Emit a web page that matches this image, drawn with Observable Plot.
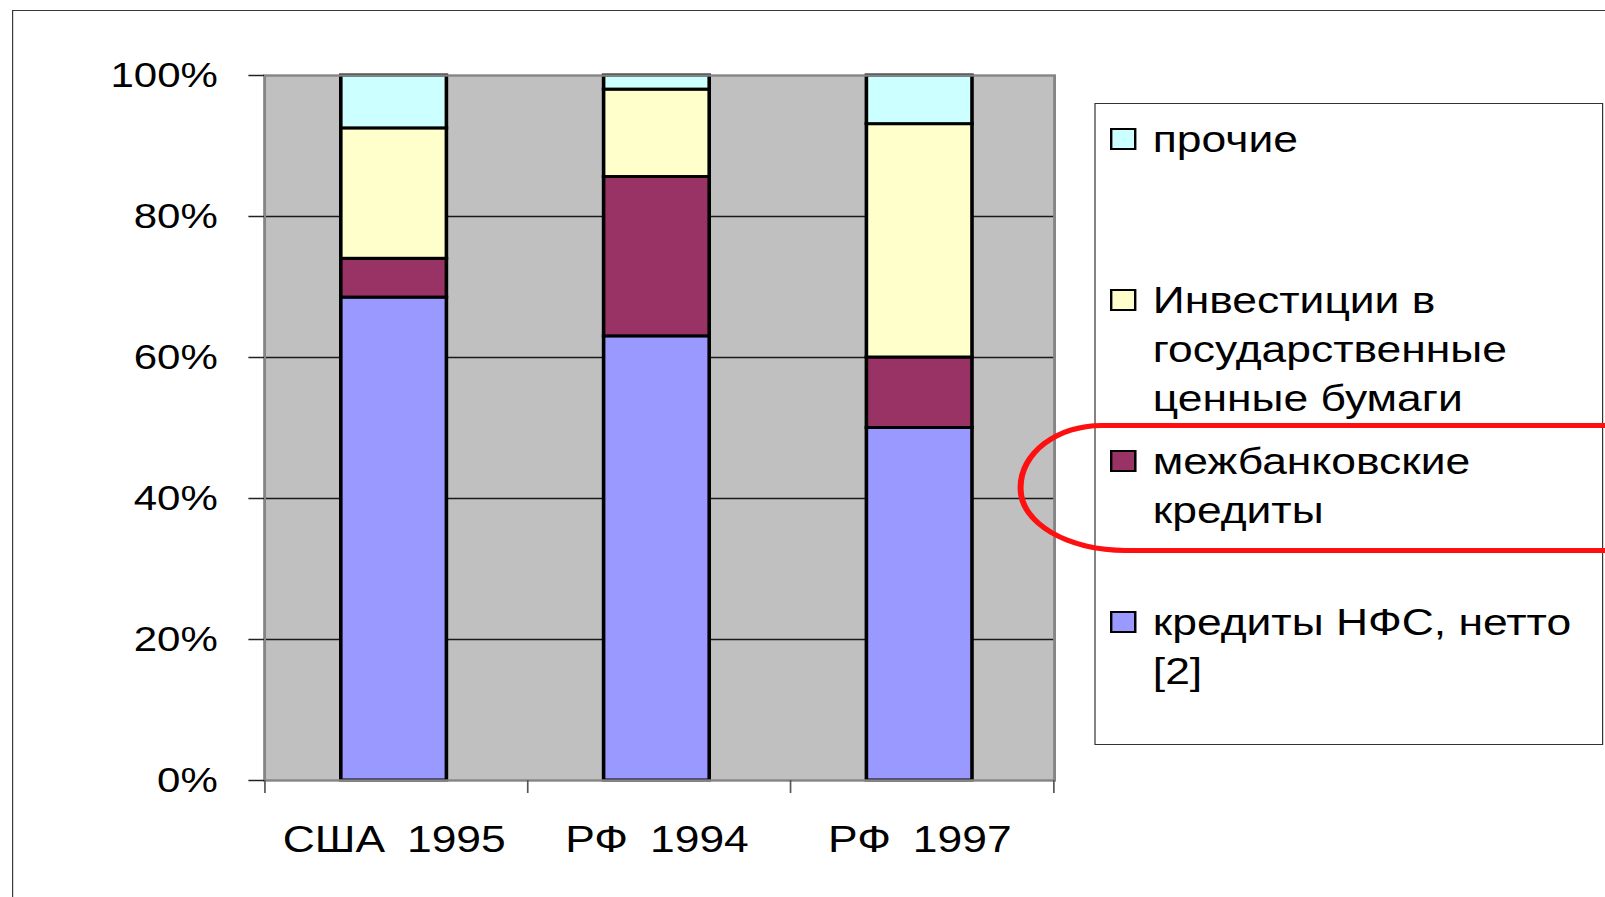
<!DOCTYPE html>
<html>
<head>
<meta charset="utf-8">
<script src="https://cdn.jsdelivr.net/npm/d3@7"></script>
<script src="https://cdn.jsdelivr.net/npm/@observablehq/plot@0.6"></script>
<style>
  html, body { margin: 0; padding: 0; background: #fff; overflow: hidden; }
  body { width: 1605px; height: 897px; }
  #wrap { position: relative; width: 1337.5px; height: 897px; transform: scaleX(1.2); transform-origin: 0 0;
          font-family: "Liberation Sans", Arial, sans-serif; }
  #outer { position: absolute; left: 10.4px; top: 10px; width: 2000px; height: 2000px; border: 1.5px solid #3a3a3a; box-sizing: border-box; }
  #chart { position: absolute; left: 0; top: 0; }
  #chart svg text { word-spacing: 8px; }
  #legend { position: absolute; left: 911.7px; top: 103px; width: 424px; height: 642px; border: 1.2px solid #333;
            box-sizing: border-box; background: #fff; }
  .entry { position: absolute; left: 12px; display: flex; align-items: flex-start; }
  .sw { width: 18px; height: 18px; border: 2px solid #000; margin-top: 13px; flex: none; }
  .lab { margin-left: 14px; width: 380px; font-size: 37px; line-height: 49px; color: #000; }
  #mark { position: absolute; left: 848px; top: 423px; width: 700px; height: 130px; border: 5px solid #ff1010;
          border-radius: 70px 80px 80px 90px / 64px 64px 64px 64px; box-sizing: border-box; pointer-events: none; }
</style>
</head>
<body>
<div id="wrap">
  <div id="outer"></div>
  <div id="chart"></div>
  <div id="legend"></div>
  <div id="mark"></div>
</div>
<script>
// ---- data ----
const categories = ["США 1995", "РФ 1994", "РФ 1997"];
const seriesNames = [
  "кредиты НФС, нетто [2]",
  "межбанковские кредиты",
  "Инвестиции в государственные ценные бумаги",
  "прочие"
];
const seriesColors = ["#9999FF", "#993366", "#FFFFCC", "#CCFFFF"];
const creditsNFS    = [68.5, 63.0, 50.0];
const interbank     = [5.5, 22.6, 10.0];
const govSecurities = [18.5, 12.4, 33.1];
const other         = [7.5, 2.0, 6.9];
const yTicks = [0, 20, 40, 60, 80, 100];
const gridTicks = [20, 40, 60, 80];

const seriesValues = [creditsNFS, interbank, govSecurities, other];
const rows = [];
categories.forEach((c, i) => {
  seriesNames.forEach((s, j) => rows.push({cat: c, series: s, value: seriesValues[j][i]}));
});

// ---- layout (unscaled coordinates; page is stretched horizontally by 1.2) ----
const W = 1337.5, H = 897;
const mL = 220, mR = 459.2, mT = 75, mB = 117;
const step = (W - mL - mR) / categories.length;

const chart = Plot.plot({
  width: W, height: H,
  marginLeft: mL, marginRight: mR, marginTop: mT, marginBottom: mB,
  style: {fontFamily: "'Liberation Sans', Arial, sans-serif", color: "#000", background: "transparent"},
  x: {domain: categories, paddingInner: 0.6, paddingOuter: 0.3, label: null},
  y: {domain: [0, 100], label: null},
  color: {domain: seriesNames, range: seriesColors},
  marks: [
    Plot.frame({fill: "#C0C0C0", stroke: "none"}),
    Plot.gridY(gridTicks, {stroke: "#1a1a1a", strokeOpacity: 1, strokeWidth: 1.5}),
    Plot.barY(rows, {x: "cat", y: "value", fill: "series", stroke: "#000", strokeWidth: 3, dx: -2}),
    Plot.frame({stroke: "#858585", strokeWidth: 2.4}),
    Plot.axisY(yTicks, {tickFormat: d => d + "%", tickSize: 13, tickPadding: 26, fontSize: 35, stroke: "#222", strokeWidth: 1.5, label: null}),
    Plot.axisX({tickSize: 0, tickPadding: 45, fontSize: 37, label: null, dx: -2}),
    Plot.ruleX(categories, {x: d => d, y1: () => 0, y2: () => 0, dx: -step / 2, insetBottom: -13, stroke: "#555", strokeWidth: 1.4}),
    Plot.ruleX([categories[categories.length - 1]], {x: d => d, y1: () => 0, y2: () => 0, dx: step / 2, insetBottom: -13, stroke: "#555", strokeWidth: 1.4})
  ]
});
document.getElementById("chart").appendChild(chart);

// ---- legend (top-to-bottom is reverse of stacking order) ----
const legend = document.getElementById("legend");
const order = seriesNames.map((s, j) => j).reverse();
order.forEach((j, k) => {
  const e = document.createElement("div");
  e.className = "entry";
  e.style.top = (10.5 + k * 161) + "px";
  const sw = document.createElement("div");
  sw.className = "sw";
  sw.style.background = seriesColors[j];
  const lab = document.createElement("div");
  lab.className = "lab";
  lab.textContent = seriesNames[j];
  e.appendChild(sw);
  e.appendChild(lab);
  legend.appendChild(e);
});
</script>
</body>
</html>
